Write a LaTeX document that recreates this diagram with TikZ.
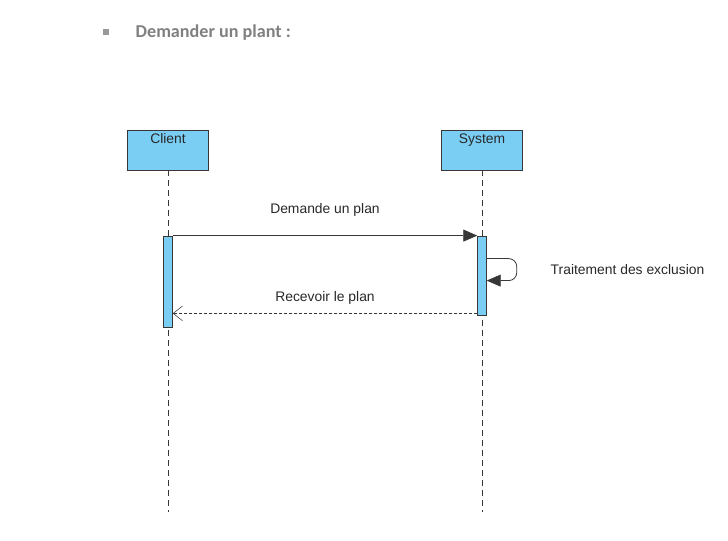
\documentclass[tikz,border=0pt]{standalone}
\usepackage{fontspec}
\setmainfont{Liberation Sans}
\newfontfamily\titlefont{Carlito}
\usetikzlibrary{arrows.meta}
\definecolor{lifeblue}{RGB}{122,206,244}
\definecolor{linegray}{RGB}{55,55,55}
\definecolor{textgray}{RGB}{40,40,40}
\definecolor{titlegray}{RGB}{128,128,128}
\begin{document}
\begin{tikzpicture}[x=0.75pt,y=-0.75pt,>=stealth,
		font=\fontsize{10.4}{12}\selectfont,text=textgray,
		actor/.style={draw=linegray,fill=lifeblue,rectangle,minimum width=60.75pt,minimum height=30pt,inner sep=0pt,semithick},
		actorname/.style={anchor=north,inner sep=2pt,text height=8pt,text depth=2.2pt},
		act/.style={draw=linegray,fill=lifeblue,rectangle,minimum width=6.5pt,inner sep=0pt,semithick},
		lifeline/.style={draw=linegray,dash pattern=on 4.5pt off 3pt,semithick},
		msg/.style={draw=linegray,semithick,-{Triangle[length=10.5pt,width=9pt]}},
		reply/.style={draw=linegray,dash pattern=on 2.25pt off 1.5pt,-{Straight Barb[length=7pt,width=11pt]}}
		]
	\useasboundingbox (0,0) rectangle (728,541);

	% Titre
	% ----------------------
	\node[fill=titlegray!80,minimum size=4pt,inner sep=0pt] (bullet) at (106,32) {};
	\node[anchor=west,text=titlegray,font=\titlefont\bfseries\fontsize{13.6}{16}\selectfont] (title) at (131,33) {Demander un plant :};

	% Acteurs
	% ----------------------

		% Client
		\node[actor,label={[actorname]90:Client}] (client) at (168,150) {};

		% System
		\node[actor,label={[actorname]90:System}] (system) at (482,150) {};

		% Lignes de vie
		\coordinate (clientEnd) at (168,512);
		\coordinate (systemEnd) at (482,512);
		\draw[lifeline] (client.south) -- (clientEnd);
		\draw[lifeline] (system.south) -- (systemEnd);

		% Activations
		\node[act,minimum height=68.25pt] (actClient) at (168,281.5) {};
		\node[act,minimum height=59.25pt] (actSystem) at (482,275.5) {};

	% Messages
	% ----------------------

	% Demande
	\draw[msg] (actClient.north east) -- (actSystem.north west) node[midway,above=11pt]{Demande un plan};

	% Message reflexif
	\coordinate (loopStart) at ([yshift=-17.25pt]actSystem.north east);
	\coordinate (loopEnd) at ([yshift=-33.75pt]actSystem.north east);
	\draw[msg,rounded corners=6pt] (loopStart) -- ++(30,0) |- (loopEnd);
	\node[anchor=west] (loopLabel) at (546,270) {Traitement des exclusion};

	% Retour
	\coordinate (replyStart) at ([yshift=1.5pt]actSystem.south west);
	\draw[reply] (replyStart) -- (replyStart -| actClient.east) node[midway,above=3pt]{Recevoir le plan};

\end{tikzpicture}
\end{document}
